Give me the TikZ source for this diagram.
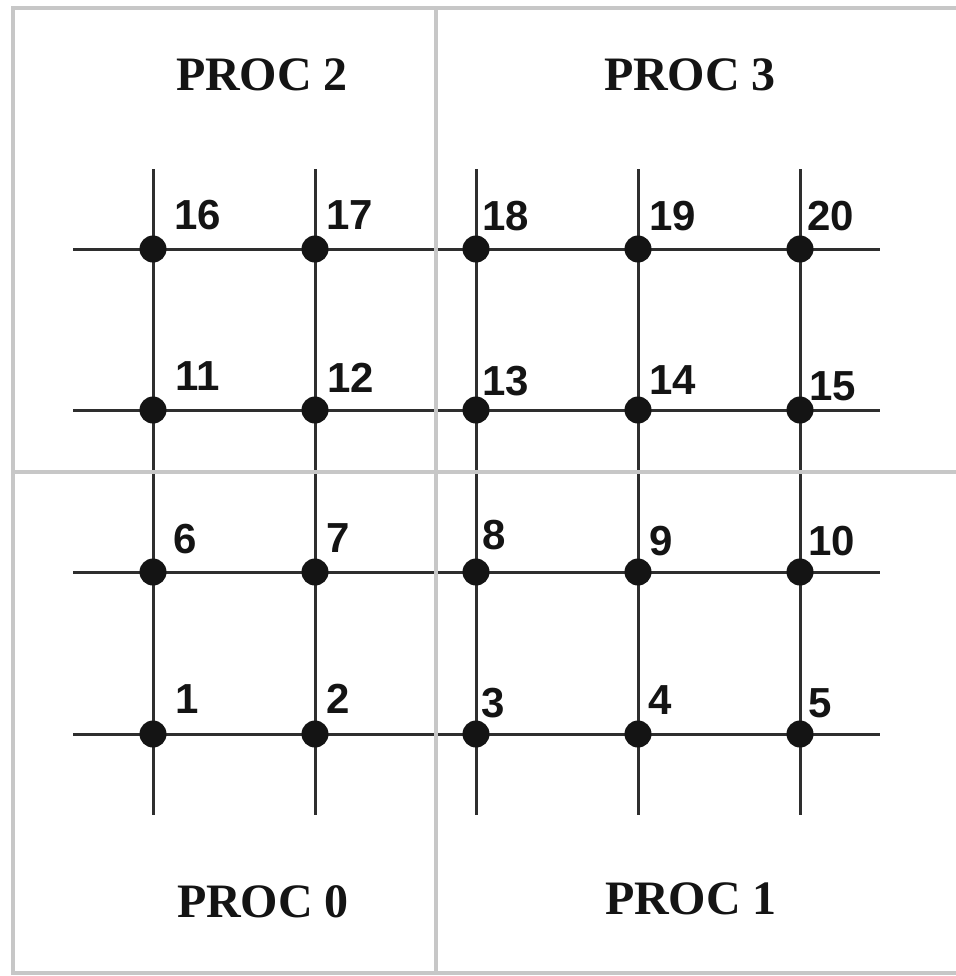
\documentclass[tikz,border=0pt]{standalone}
\usepackage{fontspec}
\setmainfont{Liberation Serif}
\newfontfamily\numfont{Liberation Sans}
\begin{document}
\begin{tikzpicture}[x=0.5pt,y=-0.5pt,
  gridline/.style={draw=black!82,line width=1.5pt},
  divider/.style={draw=black!22,line width=2.2pt},
  dotnode/.style={circle,fill=black!92,inner sep=0pt,minimum size=13.5pt},
  numlabel/.style={anchor=west,inner sep=0pt,font=\numfont\bfseries\fontsize{21}{24}\selectfont,text=black!92},
  proclabel/.style={anchor=base,inner sep=0pt,font=\bfseries\fontsize{24}{28}\selectfont,text=black!92}]
\useasboundingbox (0,0) rectangle (956,976);
% grid node positions
\def\colA{153}\def\colB{315}\def\colC{476}\def\colD{638}\def\colE{800}
\def\rowA{734}\def\rowB{572}\def\rowC{410}\def\rowD{249}
% line end coordinates
\foreach \r/\y in {1/\rowA,2/\rowB,3/\rowC,4/\rowD}{
  \coordinate (hl\r) at (73,\y);
  \coordinate (hr\r) at (880,\y);
}
\foreach \c/\x in {1/\colA,2/\colB,3/\colC,4/\colD,5/\colE}{
  \coordinate (vt\c) at (\x,169);
  \coordinate (vb\c) at (\x,815);
}
\foreach \r in {1,2,3,4}{\draw[gridline] (hl\r) -- (hr\r);}
\foreach \c in {1,2,3,4,5}{\draw[gridline] (vt\c) -- (vb\c);}
% dots
\foreach \r/\y [count=\ri from 0] in {1/\rowA,2/\rowB,3/\rowC,4/\rowD}{
  \foreach \c/\x in {1/\colA,2/\colB,3/\colC,4/\colD,5/\colE}{
    \pgfmathtruncatemacro{\n}{\ri*5+\c}
    \node[dotnode] (n\n) at (\x,\y) {};
  }
}
% labels
\node[numlabel] (l1) at (175,699) {1};
\node[numlabel] (l2) at (326,699) {2};
\node[numlabel] (l3) at (481,703) {3};
\node[numlabel] (l4) at (648,700) {4};
\node[numlabel] (l5) at (808,703) {5};
\node[numlabel] (l6) at (173,539) {6};
\node[numlabel] (l7) at (326,538) {7};
\node[numlabel] (l8) at (482,535) {8};
\node[numlabel] (l9) at (649,541) {9};
\node[numlabel] (l10) at (808,541) {10};
\node[numlabel] (l11) at (175,376) {11};
\node[numlabel] (l12) at (327,378) {12};
\node[numlabel] (l13) at (482,381) {13};
\node[numlabel] (l14) at (649,380) {14};
\node[numlabel] (l15) at (809,386) {15};
\node[numlabel] (l16) at (174,215) {16};
\node[numlabel] (l17) at (326,215) {17};
\node[numlabel] (l18) at (482,216) {18};
\node[numlabel] (l19) at (649,216) {19};
\node[numlabel] (l20) at (807,216) {20};
% dividers and frame
\coordinate (dvt) at (436,8);
\coordinate (dvb) at (436,973);
\coordinate (dhl) at (13,472);
\coordinate (dhr) at (970,472);
\draw[divider] (dvt) -- (dvb);
\draw[divider] (dhl) -- (dhr);
\draw[divider] (13,8) rectangle (975,973);
% processor labels
\node[proclabel] (p2) at (262,90) {PROC 2};
\node[proclabel] (p3) at (690,90) {PROC 3};
\node[proclabel] (p0) at (263,917) {PROC 0};
\node[proclabel] (p1) at (691,914) {PROC 1};
\end{tikzpicture}
\end{document}
